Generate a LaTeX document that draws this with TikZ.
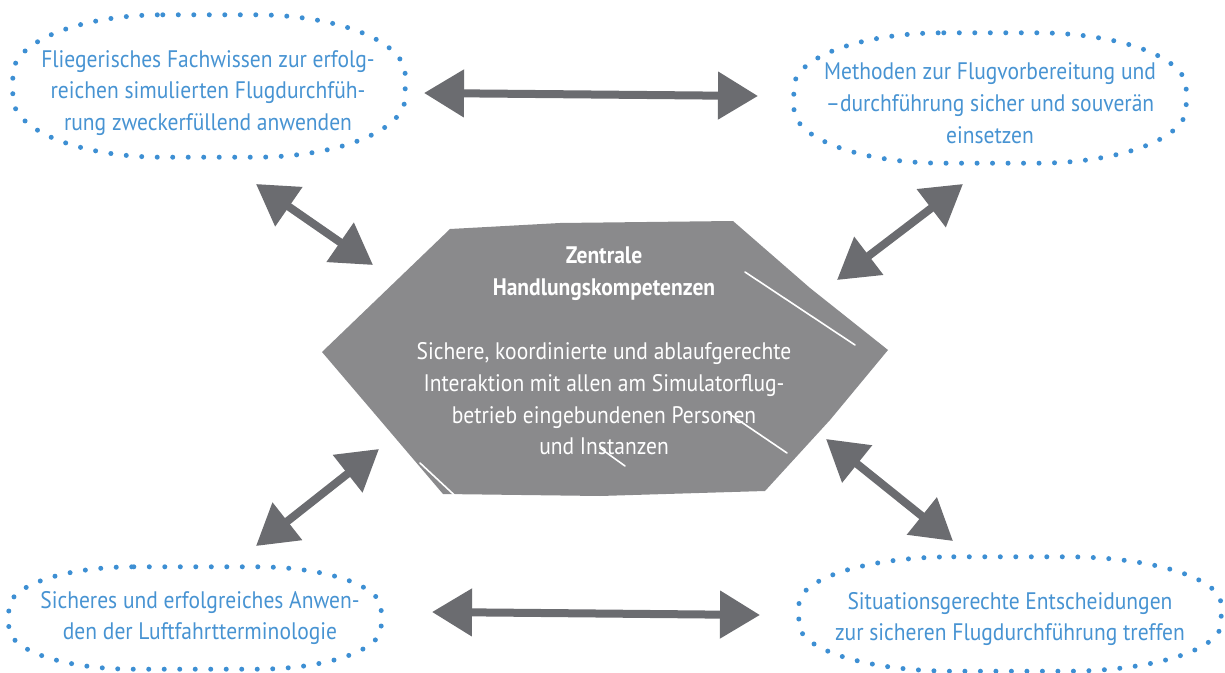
\documentclass[tikz,border=0pt]{standalone}
\usepackage{fontspec}
\setmainfont{PT Sans}[FakeStretch=0.9]
\usetikzlibrary{arrows.meta,shapes.geometric,positioning,calc}
\definecolor{kb-dots}{HTML}{3D8FD3}
\definecolor{kb-text}{HTML}{4793D2}
\definecolor{kb-hex}{HTML}{8A8A8C}
\definecolor{kb-arrow}{HTML}{6B6C70}

% dotted ring with elliptic corners round a node: node, x radius, y radius
\newcommand{\ringaround}[3]{%
  \draw[ringline] ($(#1.north west)+(#2,0)$) -- ($(#1.north east)+(-#2,0)$)
    arc[start angle=90, end angle=0, x radius=#2, y radius=#3]
    -- ($(#1.south east)+(0,#3)$)
    arc[start angle=0, end angle=-90, x radius=#2, y radius=#3]
    -- ($(#1.south west)+(#2,0)$)
    arc[start angle=-90, end angle=-180, x radius=#2, y radius=#3]
    -- ($(#1.north west)+(0,-#3)$)
    arc[start angle=180, end angle=90, x radius=#2, y radius=#3] -- cycle;}

\begin{document}
\begin{tikzpicture}[
    x=1bp, y=-1bp,
    font=\fontsize{24}{32}\selectfont
  ]

  % Styles
  \tikzset{
    ring/.style={rectangle, inner sep=0pt},
    ringline/.style={draw=kb-dots, line width=5bp, line cap=round, dash pattern=on 0bp off 15.5bp},
    bluetext/.style={text=kb-text, align=center, inner sep=0pt},
    hubtext/.style={text=white, align=center, inner sep=0pt},
    twoway/.style={draw=kb-arrow, line width=8bp, {Triangle[width=46bp,length=40bp]}-{Triangle[width=46bp,length=40bp]}},
    scratch/.style={draw=white, line width=1.6bp, line cap=round}
  }

  \useasboundingbox (0,0) rectangle (1225,673);

  % Dotted outcome rings
  \node (tl) [ring, minimum width=392bp, minimum height=142bp] at (209,86) {};
  \node (tr) [ring, minimum width=392bp, minimum height=130bp] at (990,98) {};
  \node (bl) [ring, minimum width=372bp, minimum height=102bp] at (195,618) {};
  \node (br) [ring, minimum width=422bp, minimum height=114bp] at (1010,614) {};
  \ringaround{tl}{150bp}{60bp}
  \ringaround{tr}{150bp}{55bp}
  \ringaround{bl}{125bp}{42bp}
  \ringaround{br}{155bp}{48bp}

  \node (tltext) [bluetext] at (208,93) {Fliegerisches Fachwissen zur erfolg-\\reichen simulierten Flugdurchfüh-\\rung zweckerfüllend anwenden};
  \node (trtext) [bluetext] at (990,103) {Methoden zur Flugvorbereitung und\\–durchführung sicher und souverän\\einsetzen};
  \node (bltext) [bluetext] at (200,618) {Sicheres und erfolgreiches Anwen-\\den der Luftfahrtterminologie};
  \node (brtext) [bluetext] at (1010,619) {Situationsgerechte Entscheidungen\\zur sicheren Flugdurchführung treffen};

  % Central hexagon
  \fill[kb-hex] (450,229) -- (560,223) -- (733,221) -- (810,288) -- (888,350)
    -- (830,420) -- (765,491) -- (600,496) -- (443,494) -- (380,420) -- (322,352) -- cycle;
  \draw[scratch] (745,272) -- (855,345);
  \draw[scratch] (728,413) -- (787,453);
  \draw[scratch] (420,463) -- (465,505);
  \draw[scratch] (600,448) -- (625,466);

  \node (hub) [hubtext] at (604,351) {\textbf{Zentrale}\\\textbf{Handlungskompetenzen}\\[32bp]Sichere, koordinierte und ablaufgerechte\\Interaktion mit allen am Simulatorflug-\\betrieb eingebundenen Personen\\und Instanzen};

  % Arrow ends
  \coordinate (tl-e) at (424,93);
  \coordinate (tr-w) at (758,96);
  \coordinate (bl-e) at (432,612);
  \coordinate (br-w) at (760,615);
  \coordinate (tl-s) at (256,184);
  \coordinate (hub-nw) at (373,265);
  \coordinate (tr-s) at (963,184);
  \coordinate (hub-ne) at (837,280);
  \coordinate (bl-n) at (256,546);
  \coordinate (hub-sw) at (379,449);
  \coordinate (br-n) at (953,541);
  \coordinate (hub-se) at (826,439);

  % Two-way arrows
  \draw[twoway] (tl-e) -- (tr-w);
  \draw[twoway] (bl-e) -- (br-w);
  \draw[twoway] (tl-s) -- (hub-nw);
  \draw[twoway] (tr-s) -- (hub-ne);
  \draw[twoway] (bl-n) -- (hub-sw);
  \draw[twoway] (br-n) -- (hub-se);

\end{tikzpicture}
\end{document}
